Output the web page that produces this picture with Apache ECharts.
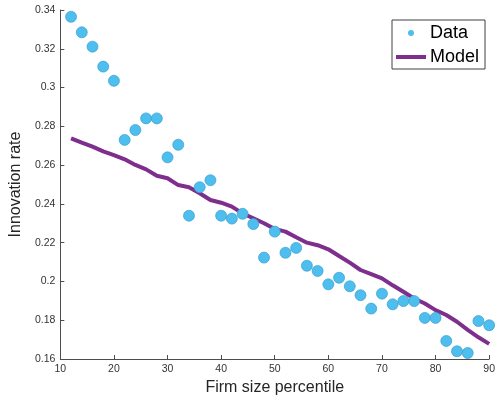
<!DOCTYPE html>
<html>
<head>
<meta charset="utf-8">
<script src="https://cdn.jsdelivr.net/npm/echarts@6/dist/echarts.min.js"></script>
<style>
html,body{margin:0;padding:0;background:#fff;}
#chart{width:498px;height:403px;}
</style>
</head>
<body>
<div id="chart"></div>
<script>
// Firm size percentiles
const percentiles = [12,14,16,18,20,22,24,26,28,30,32,34,36,38,40,42,44,46,48,50,52,54,56,58,60,62,64,66,68,70,72,74,76,78,80,82,84,86,88,90];
// Observed innovation rate
const dataValues = [0.3365,0.3285,0.3211,0.3108,0.3035,0.2730,0.2781,0.2841,0.2841,0.2640,0.2705,0.2339,0.2486,0.2522,0.2339,0.2324,0.2349,0.2296,0.2123,0.2257,0.2148,0.2173,0.2081,0.2054,0.1985,0.2019,0.1975,0.1929,0.1860,0.1937,0.1882,0.1899,0.1899,0.1812,0.1812,0.1693,0.1640,0.1631,0.1796,0.1774];
// Model innovation rate
const modelValues = [0.2738,0.2716,0.2695,0.2671,0.2652,0.2630,0.2601,0.2578,0.2545,0.2532,0.2497,0.2486,0.2455,0.2420,0.2406,0.2386,0.2351,0.2326,0.2300,0.2271,0.2257,0.2228,0.2200,0.2187,0.2166,0.2131,0.2097,0.2059,0.2038,0.2016,0.1980,0.1947,0.1912,0.1886,0.1852,0.1827,0.1792,0.1750,0.1712,0.1678];
const xTicks = [10,20,30,40,50,60,70,80,90];
const yTicks = [0.16,0.18,0.2,0.22,0.24,0.26,0.28,0.3,0.32,0.34];

const font = 'Liberation Sans, Arial, Helvetica, sans-serif';
const axisColor = '#4d4d4d';
const labelColor = '#333333';

const chart = echarts.init(document.getElementById('chart'), null, {renderer:'canvas'});
chart.setOption({
  animation: false,
  backgroundColor: '#ffffff',
  grid: {left: 52, right: 4, top: 10, bottom: 44, containLabel: false},
  xAxis: {
    type: 'value',
    min: xTicks[0], max: xTicks[xTicks.length-1], interval: 10,
    name: 'Firm size percentile',
    nameLocation: 'middle', nameGap: 21,
    nameTextStyle: {fontFamily: font, fontSize: 16, color: '#262626'},
    axisLine: {show: true, lineStyle: {color: axisColor, width: 1}},
    axisTick: {show: true, inside: true, length: 4, lineStyle: {color: axisColor}},
    axisLabel: {fontFamily: font, fontSize: 10.5, color: labelColor, margin: 5,
      showMaxLabel: true, showMinLabel: true, alignMinLabel: 'center', alignMaxLabel: 'center'},
    splitLine: {show: false}
  },
  yAxis: {
    type: 'value',
    min: yTicks[0], max: yTicks[yTicks.length-1], interval: 0.02,
    name: 'Innovation rate',
    nameLocation: 'middle', nameGap: 28,
    nameTextStyle: {fontFamily: font, fontSize: 16, color: '#262626'},
    axisLine: {show: true, lineStyle: {color: axisColor, width: 1}},
    axisTick: {show: true, inside: true, length: 4, lineStyle: {color: axisColor}},
    axisLabel: {fontFamily: font, fontSize: 10.5, color: labelColor, margin: 5,
      formatter: v => String(parseFloat(v.toFixed(2)))},
    splitLine: {show: false}
  },
  legend: {
    orient: 'vertical',
    left: 392, top: 20,
    padding: [2, 6, 1, 4],
    itemGap: 2,
    itemWidth: 30, itemHeight: 6,
    backgroundColor: '#ffffff',
    borderColor: '#404040', borderWidth: 1, borderRadius: 0,
    itemStyle: {borderWidth: 0},
    textStyle: {fontFamily: font, fontSize: 18, lineHeight: 22, color: '#000000', padding: [0,0,0,-1]},
    data: [
      {name: 'Data', icon: 'circle'},
      {name: 'Model', icon: 'path://M0,0H30V4H0Z'}
    ]
  },
  series: [
    {
      name: 'Model',
      type: 'line',
      data: percentiles.map((x, i) => [x, modelValues[i]]),
      showSymbol: false,
      symbol: 'none',
      lineStyle: {color: '#7E2F8E', width: 4},
      itemStyle: {color: '#7E2F8E'},
      z: 2
    },
    {
      name: 'Data',
      type: 'scatter',
      data: percentiles.map((x, i) => [x, dataValues[i]]),
      symbol: 'circle',
      symbolSize: 11,
      itemStyle: {color: '#4DBEEE', borderColor: '#3a9fcf', borderWidth: 0.7, opacity: 1},
      z: 3
    }
  ]
});
</script>
</body>
</html>
